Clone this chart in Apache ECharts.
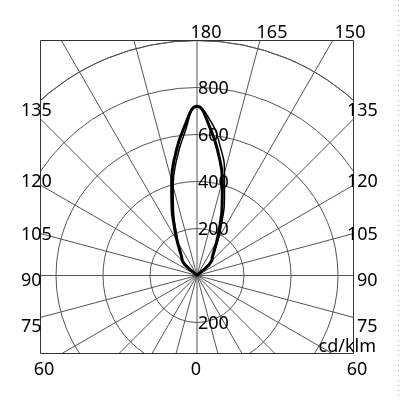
<!DOCTYPE html>
<html>
<head>
<meta charset="utf-8">
<script src="https://cdn.jsdelivr.net/npm/echarts@6/dist/echarts.min.js"></script>
<style>
  html, body { margin: 0; padding: 0; background: #fff; }
  #main { width: 400px; height: 400px; }
</style>
</head>
<body>
<div id="main"></div>
<script>
// gamma angles (deg), 0 = straight down, 180 = straight up
var gammaList = [0, 5, 10, 15, 20, 25, 30, 35, 40, 45, 50, 55, 60, 65, 70, 75, 80, 85, 90,
  95, 100, 105, 110, 115, 120, 125, 130, 135, 140, 145, 150, 155, 160, 165, 170, 175, 180];
// intensity cd/klm, C0 / C180 plane (thick curve)
var c0 = [0, 0, 0, 0, 0, 0, 0, 0, 0, 0, 0, 0, 0, 0, 0, 0, 0, 0, 0,
  0, 0, 0, 0, 0, 0, 0, 5, 88, 101, 126, 168, 228, 312, 417, 525, 632, 720];
var c180 = [0, 0, 0, 0, 0, 0, 0, 0, 0, 0, 0, 0, 0, 0, 0, 0, 0, 0, 0,
  0, 0, 0, 0, 0, 0, 0, 5, 88, 101, 126, 168, 228, 312, 417, 525, 632, 720];
// C90 / C270 plane (thin curve)
var c90 = [0, 0, 0, 0, 0, 0, 0, 0, 0, 0, 0, 0, 0, 0, 0, 0, 0, 0, 0,
  0, 0, 0, 0, 0, 0, 0, 6, 91, 106, 134, 182, 250, 342, 452, 562, 660, 720];
var c270 = [0, 0, 0, 0, 0, 0, 0, 0, 0, 0, 0, 0, 0, 0, 0, 0, 0, 0, 0,
  0, 0, 0, 0, 0, 0, 0, 5, 86, 98, 122, 160, 214, 292, 392, 500, 608, 720];

var radiusTicks = [200, 400, 600, 800];
var radiusTicksDown = [200];
var topLabels = ['180', '165', '150'];
var sideLabels = ['135', '120', '105', '90', '75'];
var bottomLabels = ['60', '0', '60'];
var unitText = 'cd/klm';

var CX = 197, CY = 275.5, R1000 = 235;
var FONT = '"Noto Sans", "Open Sans", sans-serif';
var gridColor = '#555';

// left half: angle = gamma, right half: angle = 360 - gamma (top point shared)
function plane(left, right) {
  var pts = [];
  for (var i = 0; i < gammaList.length; i++) {
    pts.push([left[i], gammaList[i]]);
  }
  for (var j = gammaList.length - 2; j >= 0; j--) {
    pts.push([right[j], 360 - gammaList[j]]);
  }
  return pts;
}

function ringY(r) {
  return CY - r * R1000 / 1000;
}

function txt(s, x, y, align) {
  return {
    type: 'text', z: 120, silent: true,
    x: x, y: y,
    style: {
      text: s, fill: '#000', font: '18px ' + FONT,
      textAlign: align || 'left', textVerticalAlign: 'middle'
    }
  };
}

var graphics = [
  // masks outside the box
  { type: 'rect', z: 100, silent: true, shape: { x: 0, y: 0, width: 40.5, height: 400 }, style: { fill: '#fff' } },
  { type: 'rect', z: 100, silent: true, shape: { x: 353.5, y: 0, width: 47, height: 400 }, style: { fill: '#fff' } },
  { type: 'rect', z: 100, silent: true, shape: { x: 0, y: 0, width: 400, height: 40.5 }, style: { fill: '#fff' } },
  { type: 'rect', z: 100, silent: true, shape: { x: 0, y: 353.5, width: 400, height: 47 }, style: { fill: '#fff' } },
  // frame
  { type: 'rect', z: 105, silent: true, shape: { x: 40.5, y: 40.5, width: 313, height: 313 },
    style: { fill: 'none', stroke: '#333', lineWidth: 1 } },
  // dotted page edge on the right
  { type: 'line', z: 105, silent: true, shape: { x1: 398.5, y1: 0, x2: 398.5, y2: 400 },
    style: { stroke: '#aaa', lineWidth: 1, lineDash: [1, 4] } }
];

// radius labels along the vertical axis
radiusTicks.forEach(function (r) {
  graphics.push(txt(String(r), 198, ringY(r) + 1.5));
});
radiusTicksDown.forEach(function (r) {
  graphics.push(txt(String(r), 198, ringY(-r) + 1.5));
});

// angle labels
var topX = [206, 272, 350];
topLabels.forEach(function (s, i) { graphics.push(txt(s, topX[i], 32.5, 'center')); });
var sideY = [110.5, 182, 235, 280.5, 327];
sideLabels.forEach(function (s, i) {
  graphics.push(txt(s, 21, sideY[i]));
  graphics.push(txt(s, s.length > 2 ? 347 : 357, sideY[i]));
});
var bottomX = [44, 196, 357];
bottomLabels.forEach(function (s, i) { graphics.push(txt(s, bottomX[i], 369.5, 'center')); });
graphics.push(txt(unitText, 376, 346.5, 'right'));

var chart = echarts.init(document.getElementById('main'));
chart.setOption({
  backgroundColor: '#fff',
  animation: false,
  polar: [
    { center: [CX, CY], radius: R1000 },
    { center: [CX, CY], radius: 320 }
  ],
  angleAxis: [
    {
      polarIndex: 0, type: 'value', min: 0, max: 360, startAngle: 270, clockwise: true,
      axisLine: { show: true, lineStyle: { color: gridColor, width: 1 } },
      axisTick: { show: false }, axisLabel: { show: false }, splitLine: { show: false }
    },
    {
      polarIndex: 1, type: 'value', min: 0, max: 360, interval: 15, startAngle: 270, clockwise: true,
      axisLine: { show: false }, axisTick: { show: false }, axisLabel: { show: false },
      splitLine: { show: true, lineStyle: { color: gridColor, width: 1 } }
    }
  ],
  radiusAxis: [
    {
      polarIndex: 0, type: 'value', min: 0, max: 1000, interval: 200,
      axisLine: { show: false }, axisTick: { show: false }, axisLabel: { show: false },
      splitLine: { show: true, lineStyle: { color: gridColor, width: 1 } }
    },
    {
      polarIndex: 1, type: 'value', min: 0, max: 1000,
      axisLine: { show: false }, axisTick: { show: false }, axisLabel: { show: false },
      splitLine: { show: false }
    }
  ],
  series: [
    {
      type: 'line', coordinateSystem: 'polar', polarIndex: 0,
      data: plane(c180, c0), symbol: 'none', smooth: 0.5,
      lineStyle: { color: '#000', width: 3 }, z: 5
    },
    {
      type: 'line', coordinateSystem: 'polar', polarIndex: 0,
      data: plane(c270, c90), symbol: 'none', smooth: 0.5,
      lineStyle: { color: '#000', width: 1.5 }, z: 6
    }
  ],
  graphic: graphics
});
</script>
</body>
</html>
